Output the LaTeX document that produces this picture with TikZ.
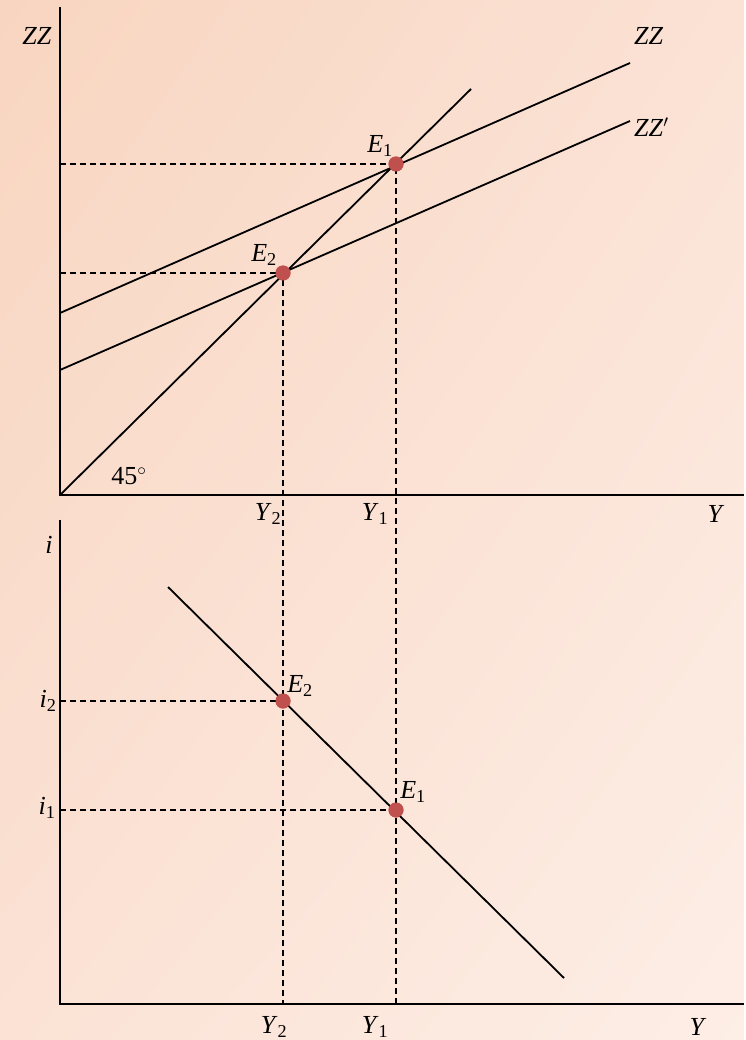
\documentclass[tikz,border=0pt]{standalone}
\usepackage{fontspec}
\setmainfont{Liberation Serif}
\usetikzlibrary{shadings}
\definecolor{PeachTop}{HTML}{F8D5C0}
\definecolor{PeachMid}{HTML}{FBE2D5}
\definecolor{PeachLow}{HTML}{FDEEE6}
\definecolor{DotRed}{HTML}{C0504D}

\begin{document}
\begin{tikzpicture}[x=1pt,y=-1pt,font=\fontsize{26}{30}\selectfont,axis/.style={line width=2pt},curve/.style={line width=1.8pt},guide/.style={line width=1.7pt,dash pattern=on 6pt off 4pt},dot/.style={circle,fill=DotRed,inner sep=0pt,minimum size=15pt},lab/.style={inner sep=0pt}]
\shade[upper left=PeachTop,upper right=PeachMid,lower left=PeachMid,lower right=PeachLow] (0,0) rectangle (744,1040);
% upper panel: goods market
\coordinate (O) at (60,495);
\coordinate (ZZtop) at (60,7);
\coordinate (Yend) at (744,495);
\coordinate (Deg) at (471,89);
\coordinate (ZZs) at (60,313);
\coordinate (ZZe) at (630,63);
\coordinate (ZZps) at (60,370);
\coordinate (ZZpe) at (630,121);
% lower panel: IS curve
\coordinate (Ol) at (60,1004);
\coordinate (itop) at (60,520);
\coordinate (Ylend) at (744,1004);
\coordinate (ISs) at (168,587);
\coordinate (ISe) at (564,978);
\node[dot] (E1) at (396,164) {};
\node[dot] (E2) at (283,273) {};
\node[dot] (E2l) at (283,701) {};
\node[dot] (E1l) at (396,810) {};
% dashed guides
\draw[guide] (O |- E1) -- (E1.center) -- (E1 |- Ol);
\draw[guide] (O |- E2) -- (E2.center) -- (E2 |- Ol);
\draw[guide] (Ol |- E2l) -- (E2l.center);
\draw[guide] (Ol |- E1l) -- (E1l.center);
% axes and curves
\draw[axis] (ZZtop) -- (O) -- (Yend);
\draw[axis] (itop) -- (Ol) -- (Ylend);
\draw[curve] (O) -- (Deg);
\draw[curve] (ZZs) -- (ZZe);
\draw[curve] (ZZps) -- (ZZpe);
\draw[curve] (ISs) -- (ISe);
\foreach \p in {E1,E2,E2l,E1l}{\node[dot] at (\p) {};}
% labels
\node[lab] (zzax) at (37,36) {\textit{ZZ}};
\node[lab,anchor=west] (zzlab) at (634,36) {\textit{ZZ}};
\node[lab,anchor=west] (zzplab) at (634,127) {\textit{ZZ}$'$};
\node[lab] (e1lab) at (380,146) {\textit{E}\textsubscript{1}};
\node[lab] (e2lab) at (264,255) {\textit{E}\textsubscript{2}};
\node[lab] (deglab) at (129,476) {45$^\circ$};
\node[lab] (y2up) at (268,514) {\textit{Y}\textsubscript{2}};
\node[lab] (y1up) at (375,514) {\textit{Y}\textsubscript{1}};
\node[lab] (yup) at (716,514) {\textit{Y}};
\node[lab] (ilab) at (49,545) {\textit{i}};
\node[lab] (i2lab) at (48,701) {\textit{i}\textsubscript{2}};
\node[lab] (i1lab) at (47,808) {\textit{i}\textsubscript{1}};
\node[lab] (e2llab) at (300,686) {\textit{E}\textsubscript{2}};
\node[lab] (e1llab) at (413,792) {\textit{E}\textsubscript{1}};
\node[lab] (y2lo) at (274,1027) {\textit{Y}\textsubscript{2}};
\node[lab] (y1lo) at (375,1027) {\textit{Y}\textsubscript{1}};
\node[lab] (ylo) at (698,1027) {\textit{Y}};
\end{tikzpicture}
\end{document}
